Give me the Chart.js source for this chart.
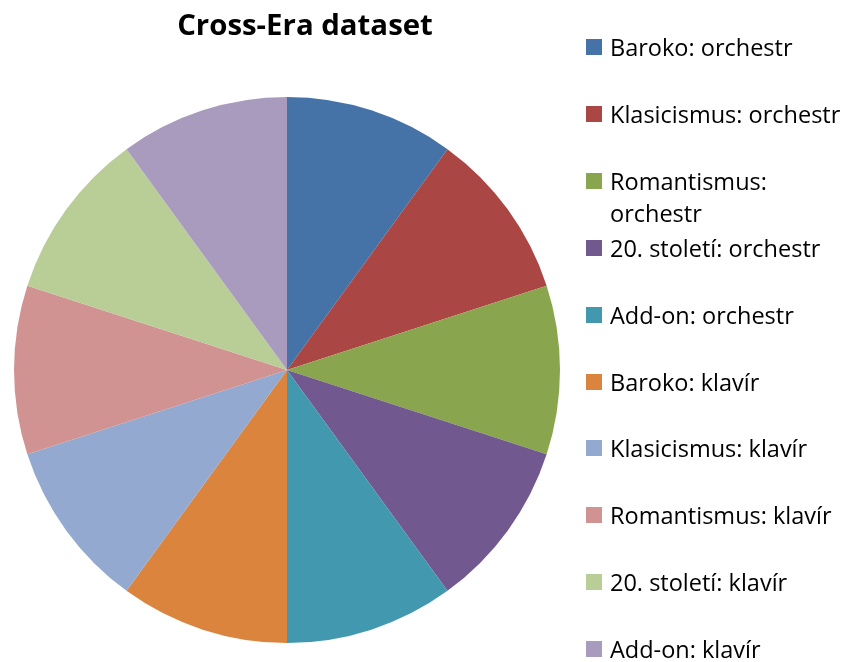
<!DOCTYPE html>
<html>
<head>
<meta charset="utf-8">
<script src="https://cdn.jsdelivr.net/npm/chart.js@4"></script>
<style>
  html, body { margin: 0; padding: 0; background: #fff; }
  #wrap { position: relative; width: 850px; height: 662px; font-family: 'Open Sans', sans-serif; }
  #title { position: absolute; left: 0; width: 610px; top: 4px; text-align: center; font-weight: bold; font-size: 29.4px; color: #000; }
  #legend { position: absolute; left: 586px; top: 0; width: 264px; }
  .item { position: absolute; left: 0; width: 264px; font-size: 23.5px; line-height: 32px; color: #000; }
  .item .box { position: absolute; left: 0; top: 8px; width: 16px; height: 16px; }
  .item .txt { display: block; margin-left: 24px; width: 238px; }
  canvas { position: absolute; left: 0; top: 0; }
</style>
</head>
<body>
<div id="wrap">
  <canvas id="pie" width="850" height="662"></canvas>
  <div id="title">Cross-Era dataset</div>
  <div id="legend"></div>
</div>
<script>
const labels = [
  'Baroko: orchestr',
  'Klasicismus: orchestr',
  'Romantismus: orchestr',
  '20. století: orchestr',
  'Add-on: orchestr',
  'Baroko: klavír',
  'Klasicismus: klavír',
  'Romantismus: klavír',
  '20. století: klavír',
  'Add-on: klavír',
];
// every slice in the picture is the same size
const values = [1, 1, 1, 1, 1, 1, 1, 1, 1, 1];
const colors = [
  '#4572A7', '#AA4643', '#89A54E', '#71588F', '#4198AF',
  '#DB843D', '#93A9CF', '#D19392', '#B9CD96', '#A99BBD',
];

const chart = new Chart(document.getElementById('pie'), {
  type: 'pie',
  data: {
    labels,
    datasets: [{
      data: values,
      backgroundColor: colors,
      borderWidth: 0,
    }],
  },
  options: {
    responsive: false,
    animation: false,
    layout: { padding: { left: 14, right: 290, top: 97, bottom: 19 } },
    plugins: {
      legend: { display: false },
      title: { display: false },
      tooltip: { enabled: false },
    },
  },
});

// legend on the right, built from the chart's own legend items
const legendEl = document.getElementById('legend');
const items = Chart.overrides.pie.plugins.legend.labels.generateLabels(chart);
items.forEach((it, i) => {
  const div = document.createElement('div');
  div.className = 'item';
  div.style.top = (31 + i * 66.9) + 'px';
  div.innerHTML = `<span class="box" style="background:${it.fillStyle}"></span><span class="txt">${it.text}</span>`;
  legendEl.appendChild(div);
});
</script>
</body>
</html>
